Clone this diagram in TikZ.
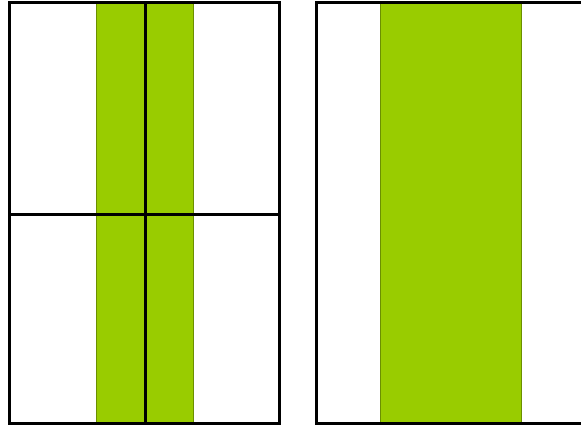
\documentclass[tikz,border=0pt]{standalone}
\usepackage{tikz}
\usepackage{xcolor}
\definecolor{leaf}{RGB}{153,204,0}

\begin{document}
\begin{tikzpicture}[x=0.5pt,y=-0.5pt,line cap=rect,
  frame/.style={draw=black,line width=1.5pt},
  band/.style={fill=leaf,draw=leaf!70!black,line width=0.4pt}]
\clip (0,0) rectangle (581,427);
\useasboundingbox (0,0) rectangle (581,427);
% left panel, split in four
\fill[white] (0,0) rectangle (581,427);
\draw[band] (96,3) rectangle (193,423);
\draw[frame] (9,3) rectangle (279,423);
\draw[frame] (145,3) -- (145,423);
\draw[frame] (9,214) -- (279,214);
% right panel, runs past the edge
\draw[band] (380,3) rectangle (521,423);
\draw[frame] (316,3) rectangle (600,423);
\end{tikzpicture}
\end{document}
